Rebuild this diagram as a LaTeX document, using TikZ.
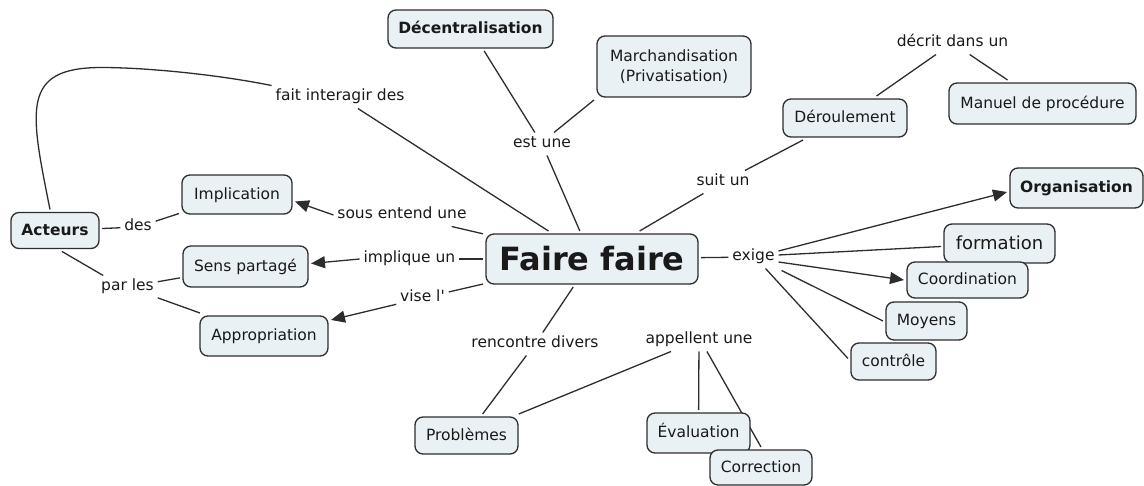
\documentclass[tikz,border=0pt]{standalone}
\usepackage{fontspec}
\setmainfont{DejaVu Sans}
\usetikzlibrary{arrows.meta,calc,backgrounds}
\definecolor{cfill}{RGB}{234,241,245}
\definecolor{cline}{RGB}{45,45,45}
\definecolor{ctext}{RGB}{25,25,25}
\begin{document}
\begin{tikzpicture}[x=1pt,y=-1pt,
  box/.style={draw=cline, line width=1.3pt, fill=cfill, rounded corners=8pt,
    inner sep=0pt, outer sep=3pt, text=ctext, font=\fontsize{15.5}{20}\selectfont},
  concept/.style={box, text height=12.5pt, text depth=2.5pt},
  key/.style={concept, font=\fontsize{15.5}{20}\selectfont\bfseries},
  link/.style={inner sep=2pt, outer sep=2pt, text height=11.5pt, text depth=3.5pt,
    text=ctext, font=\fontsize{15.5}{19}\selectfont},
  conn/.style={draw=cline, line width=1.3pt},
  arr/.style={conn, -{Triangle[length=14pt,width=12pt]}},
]
\useasboundingbox (0,0) rectangle (1144,486);

% concepts
\node[box, minimum width=212pt, minimum height=50pt,
      font=\fontsize{32}{38}\selectfont\bfseries] (ff) at (592,259) {Faire faire};
\node[key, minimum width=88pt, minimum height=36pt] (acteurs) at (55,230.5) {Acteurs};
\node[key, minimum width=165pt, minimum height=38pt] (dec) at (470.5,29) {Décentralisation};
\node[box, align=center, minimum width=154pt, minimum height=61pt] (march) at (674,66.5)
  {Marchandisation\\(Privatisation)};
\node[concept, minimum width=124pt, minimum height=38pt] (deroul) at (845,118) {Déroulement};
\node[concept, minimum width=187pt, minimum height=41pt] (manuel) at (1042.5,103.5) {Manuel de procédure};
\node[key, minimum width=133pt, minimum height=40pt] (orga) at (1076.5,188) {Organisation};
\node[box, font=\fontsize{18}{22}\selectfont, text height=14.5pt, text depth=3pt,
      minimum width=111pt, minimum height=39pt] (forma) at (999.5,243.5) {formation};
\node[concept, minimum width=121pt, minimum height=36pt] (coord) at (967.5,280) {Coordination};
\node[concept, minimum width=81pt, minimum height=38pt] (moyens) at (926.5,321) {Moyens};
\node[concept, minimum width=85pt, minimum height=37pt] (contr) at (893.5,361.5) {contrôle};
\node[concept, minimum width=103pt, minimum height=40pt] (eval) at (698.5,433) {Évaluation};
\node[concept, minimum width=102pt, minimum height=35pt] (corr) at (761,467.5) {Correction};
\node[concept, minimum width=103pt, minimum height=37pt] (prob) at (466.5,435.5) {Problèmes};
\node[concept, minimum width=110pt, minimum height=39pt] (impl) at (237,194.5) {Implication};
\node[concept, minimum width=125pt, minimum height=41pt] (sens) at (245.5,266.5) {Sens partagé};
\node[concept, minimum width=128pt, minimum height=40pt] (appr) at (264,336) {Appropriation};

% linking phrases
\node[link] (fait) at (340,97) {fait interagir des};
\node[link] (estune) at (542,144) {est une};
\node[link] (suitun) at (723,182) {suit un};
\node[link] (decrit) at (952.5,43) {décrit dans un};
\node[link] (sous) at (402,215) {sous entend une};
\node[link] (des) at (138,227) {des};
\node[link] (implq) at (409.5,259) {implique un};
\node[link] (parles) at (127.5,287) {par les};
\node[link] (vise) at (422.5,298) {vise l\textquotesingle};
\node[link] (exige) at (753.5,257) {exige};
\node[link] (renc) at (535,344) {rencontre divers};
\node[link] (appel) at (699,340) {appellent une};

% connectors, kept behind the boxes
\begin{scope}[on background layer]
\draw[conn] (ff) -- (fait);
\draw[conn] (fait.north west) .. controls +(-60,-12) and +(40,0) .. ++(-170,-18)
  .. controls +(-81,0) and +(-20,-100) .. ($(acteurs.north)+(-5,0)$);
\draw[conn] (ff) -- (sous);
\draw[arr] (sous.west) -- ($(impl.east)+(0,7)$);
\draw[conn] (implq) -- (ff);
\draw[arr] (implq.west) -- ($(sens.east)+(0,-3)$);
\draw[conn] (vise) -- (ff);
\draw[arr] (vise) -- (appr);
\draw[conn] (acteurs) -- (des);
\draw[conn] (des) -- (impl);
\draw[conn] ($(acteurs.south)+(7,0)$) -- ($(parles.north west)+(6,0)$);
\draw[conn] (parles) -- (sens);
\draw[conn] (parles) -- (appr);
\draw[conn] (dec) -- (estune);
\draw[conn] (march.south west) -- ($(estune.north)+(12,0)$);
\draw[conn] (estune) -- (ff);
\draw[conn] (ff) -- (suitun);
\draw[conn] (suitun) -- (deroul);
\draw[conn] (deroul) -- (decrit);
\draw[conn] (decrit) -- (manuel);
\draw[conn] (ff) -- (exige);
\draw[arr] ($(exige.east)+(0,-6)$) -- ($(orga.west)+(0,4)$);
\draw[conn] ($(exige.east)+(0,-2)$) -- ($(forma.west)+(0,3)$);
\draw[arr] ($(exige.east)+(0,5)$) -- (coord.west);
\draw[conn] ($(exige.south east)+(3,2)$) -- (moyens.west);
\draw[conn] ($(exige.south)+(12,0)$) -- ($(contr.west)+(0,-3)$);
\draw[conn] (ff) -- (renc);
\draw[conn] (renc) -- (prob);
\draw[conn] (prob) -- (appel);
\draw[conn] (appel) -- (eval);
\draw[conn] ($(appel.south)+(8,0)$) -- (corr.north);
\end{scope}
\end{tikzpicture}
\end{document}
